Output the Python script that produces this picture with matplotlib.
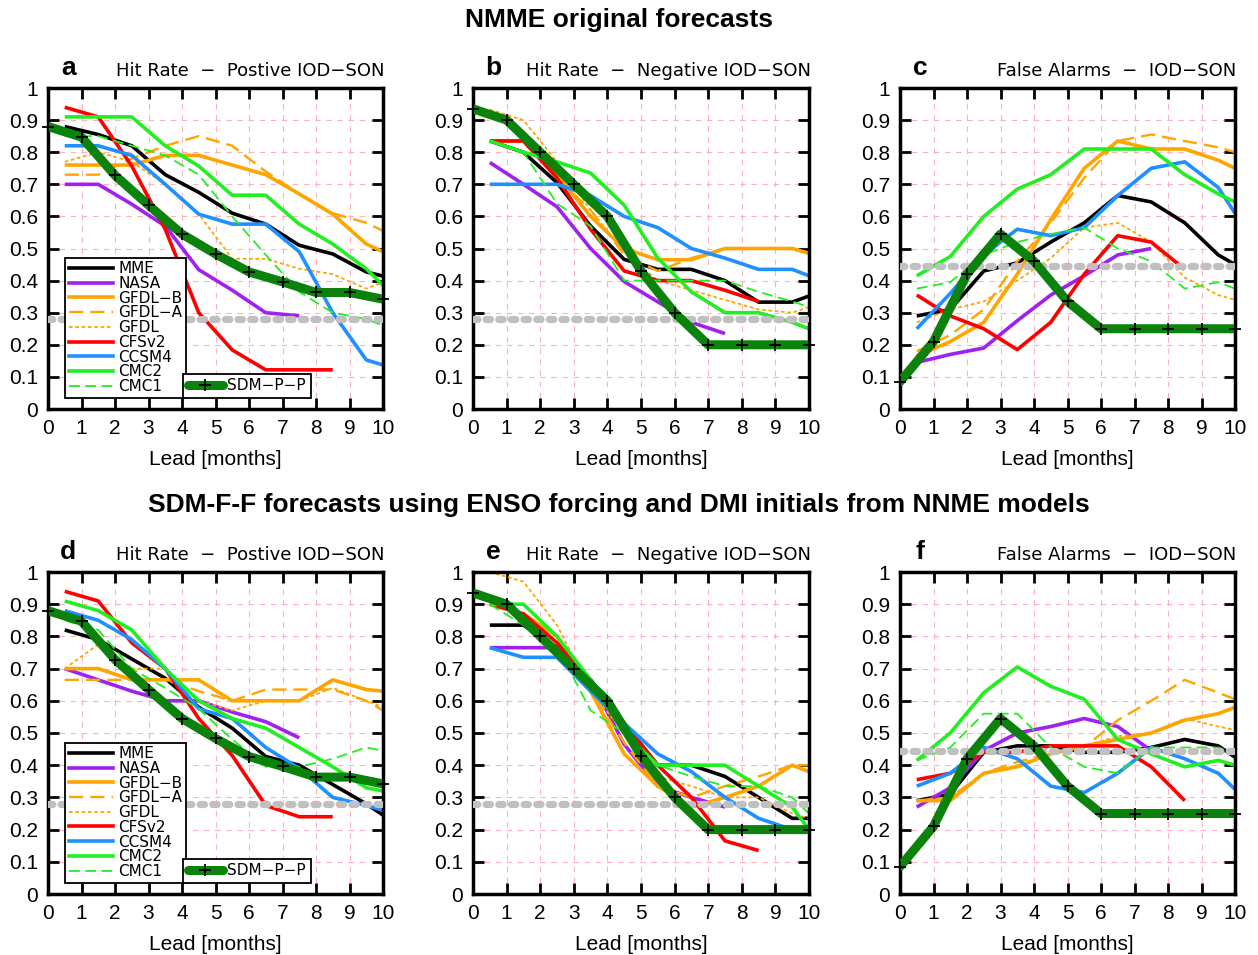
import matplotlib
matplotlib.use("Agg")
import matplotlib.pyplot as plt
from matplotlib.lines import Line2D

plt.rcParams['font.family'] = ['Liberation Sans', 'DejaVu Sans']

# lead times (months)
lead_nmme = [0.5, 1.5, 2.5, 3.5, 4.5, 5.5, 6.5, 7.5, 8.5, 9.5, 10.0]
lead_sdm = [0, 1, 2, 3, 4, 5, 6, 7, 8, 9, 10]

models = ['MME', 'NASA', 'GFDL-B', 'GFDL-A', 'GFDL', 'CFSv2', 'CCSM4', 'CMC2', 'CMC1']
legend_names = ['MME', 'NASA', 'GFDL−B', 'GFDL−A', 'GFDL', 'CFSv2', 'CCSM4', 'CMC2', 'CMC1']

# ---- panel a: hit rate, positive IOD (NMME original)
a_mme = [0.88, 0.855, 0.82, 0.73, 0.675, 0.61, 0.576, 0.51, 0.483, 0.427, 0.414]
a_nasa = [0.70, 0.70, 0.638, 0.57, 0.434, 0.37, 0.30, 0.29]
a_gfdlb = [0.76, 0.76, 0.76, 0.79, 0.79, 0.76, 0.73, 0.67, 0.607, 0.514, 0.49]
a_gfdla = [0.73, 0.73, 0.78, 0.82, 0.85, 0.82, 0.74, 0.67, 0.61, 0.58, 0.555]
a_gfdl = [0.77, 0.80, 0.77, 0.70, 0.607, 0.468, 0.468, 0.437, 0.42, 0.375, 0.395]
a_cfs = [0.94, 0.91, 0.757, 0.56, 0.30, 0.184, 0.122, 0.122, 0.122]
a_ccsm = [0.82, 0.82, 0.79, 0.70, 0.607, 0.576, 0.576, 0.49, 0.30, 0.153, 0.137]
a_cmc2 = [0.91, 0.91, 0.91, 0.82, 0.757, 0.666, 0.666, 0.576, 0.514, 0.437, 0.385]
a_cmc1 = [0.85, 0.85, 0.82, 0.79, 0.73, 0.60, 0.48, 0.365, 0.30, 0.28, 0.26]

# ---- panel b: hit rate, negative IOD (NMME original)
b_mme = [0.835, 0.80, 0.705, 0.57, 0.466, 0.435, 0.435, 0.40, 0.333, 0.333, 0.352]
b_nasa = [0.768, 0.70, 0.63, 0.50, 0.397, 0.334, 0.27, 0.235]
b_gfdlb = [0.835, 0.835, 0.73, 0.60, 0.50, 0.465, 0.465, 0.50, 0.50, 0.50, 0.485]
b_gfdla = [0.835, 0.835, 0.72, 0.62, 0.48, 0.43, 0.47, 0.50, 0.50, 0.50, 0.485]
b_gfdl = [0.933, 0.90, 0.77, 0.62, 0.49, 0.40, 0.37, 0.34, 0.31, 0.30, 0.318]
b_cfs = [0.835, 0.835, 0.72, 0.56, 0.43, 0.40, 0.40, 0.37, 0.335]
b_ccsm = [0.70, 0.70, 0.70, 0.665, 0.60, 0.565, 0.50, 0.47, 0.435, 0.435, 0.415]
b_cmc2 = [0.835, 0.80, 0.77, 0.735, 0.635, 0.47, 0.365, 0.30, 0.30, 0.27, 0.25]
b_cmc1 = [0.835, 0.80, 0.64, 0.57, 0.40, 0.40, 0.40, 0.40, 0.365, 0.335, 0.318]

# ---- panel c: false alarms (NMME original)
c_mme = [0.29, 0.31, 0.43, 0.455, 0.52, 0.58, 0.665, 0.645, 0.58, 0.48, 0.45]
c_nasa = [0.145, 0.17, 0.19, 0.275, 0.355, 0.415, 0.48, 0.50]
c_gfdlb = [0.165, 0.21, 0.27, 0.42, 0.59, 0.75, 0.835, 0.81, 0.81, 0.775, 0.75]
c_gfdla = [0.18, 0.23, 0.31, 0.46, 0.58, 0.72, 0.835, 0.855, 0.835, 0.815, 0.80]
c_gfdl = [0.27, 0.31, 0.335, 0.40, 0.47, 0.565, 0.58, 0.52, 0.41, 0.355, 0.34]
c_cfs = [0.355, 0.29, 0.25, 0.185, 0.27, 0.42, 0.54, 0.52, 0.435]
c_ccsm = [0.25, 0.36, 0.48, 0.56, 0.54, 0.565, 0.665, 0.75, 0.77, 0.69, 0.61]
c_cmc2 = [0.415, 0.475, 0.60, 0.685, 0.73, 0.81, 0.81, 0.81, 0.73, 0.67, 0.645]
c_cmc1 = [0.375, 0.395, 0.48, 0.52, 0.545, 0.565, 0.50, 0.46, 0.375, 0.395, 0.375]

# ---- panel d: hit rate, positive IOD (SDM-F-F)
d_mme = [0.82, 0.79, 0.73, 0.67, 0.58, 0.515, 0.427, 0.40, 0.34, 0.28, 0.245]
d_nasa = [0.70, 0.665, 0.63, 0.60, 0.60, 0.565, 0.535, 0.485]
d_gfdlb = [0.70, 0.70, 0.665, 0.665, 0.665, 0.60, 0.60, 0.60, 0.665, 0.635, 0.63]
d_gfdla = [0.665, 0.665, 0.665, 0.665, 0.63, 0.60, 0.635, 0.635, 0.635, 0.60, 0.57]
d_gfdl = [0.70, 0.775, 0.70, 0.70, 0.60, 0.57, 0.60, 0.60, 0.64, 0.60, 0.58]
d_cfs = [0.94, 0.91, 0.78, 0.70, 0.545, 0.43, 0.275, 0.24, 0.24]
d_ccsm = [0.88, 0.85, 0.79, 0.70, 0.575, 0.545, 0.455, 0.39, 0.30, 0.275, 0.26]
d_cmc2 = [0.91, 0.88, 0.82, 0.70, 0.60, 0.545, 0.515, 0.455, 0.395, 0.33, 0.32]
d_cmc1 = [0.85, 0.82, 0.70, 0.64, 0.575, 0.48, 0.395, 0.395, 0.42, 0.455, 0.445]

# ---- panel e: hit rate, negative IOD (SDM-F-F)
e_mme = [0.835, 0.835, 0.765, 0.665, 0.53, 0.40, 0.40, 0.365, 0.30, 0.235, 0.235]
e_nasa = [0.765, 0.765, 0.765, 0.665, 0.465, 0.335, 0.30, 0.27]
e_gfdlb = [0.90, 0.87, 0.80, 0.63, 0.435, 0.335, 0.27, 0.30, 0.335, 0.40, 0.38]
e_gfdla = [0.90, 0.87, 0.80, 0.63, 0.47, 0.335, 0.30, 0.335, 0.365, 0.40, 0.40]
e_gfdl = [1.0, 0.97, 0.835, 0.63, 0.50, 0.365, 0.335, 0.30, 0.30, 0.25, 0.235]
e_cfs = [0.90, 0.87, 0.78, 0.665, 0.53, 0.40, 0.30, 0.165, 0.135]
e_ccsm = [0.765, 0.735, 0.735, 0.63, 0.53, 0.435, 0.38, 0.30, 0.235, 0.20, 0.20]
e_cmc2 = [0.90, 0.90, 0.80, 0.665, 0.50, 0.40, 0.40, 0.40, 0.335, 0.27, 0.20]
e_cmc1 = [0.90, 0.835, 0.77, 0.57, 0.50, 0.40, 0.365, 0.335, 0.335, 0.30, 0.25]

# ---- panel f: false alarms (SDM-F-F)
f_mme = [0.29, 0.31, 0.44, 0.46, 0.46, 0.44, 0.44, 0.455, 0.48, 0.46, 0.425]
f_nasa = [0.27, 0.33, 0.445, 0.50, 0.52, 0.545, 0.52, 0.445]
f_gfdlb = [0.29, 0.29, 0.375, 0.395, 0.435, 0.46, 0.48, 0.50, 0.54, 0.56, 0.58]
f_gfdla = [0.29, 0.30, 0.375, 0.41, 0.435, 0.455, 0.54, 0.60, 0.665, 0.625, 0.605]
f_gfdl = [0.29, 0.30, 0.375, 0.40, 0.435, 0.46, 0.49, 0.50, 0.545, 0.52, 0.51]
f_cfs = [0.355, 0.375, 0.44, 0.44, 0.46, 0.46, 0.46, 0.395, 0.29]
f_ccsm = [0.335, 0.375, 0.455, 0.42, 0.335, 0.315, 0.375, 0.455, 0.42, 0.375, 0.325]
f_cmc2 = [0.415, 0.50, 0.625, 0.705, 0.645, 0.605, 0.48, 0.435, 0.395, 0.415, 0.40]
f_cmc1 = [0.415, 0.455, 0.56, 0.56, 0.455, 0.395, 0.375, 0.455, 0.455, 0.455, 0.435]

# statistical model SDM-P-P (same in both rows)
sdm_hit_pos = [0.88, 0.847, 0.728, 0.635, 0.545, 0.483, 0.427, 0.396, 0.363, 0.363, 0.342]
sdm_hit_neg = [0.935, 0.90, 0.80, 0.70, 0.60, 0.43, 0.30, 0.20, 0.20, 0.20, 0.20]
sdm_false = [0.085, 0.21, 0.42, 0.545, 0.46, 0.335, 0.25, 0.25, 0.25, 0.25, 0.25]

# climatological reference levels
clim_hit = 0.28
clim_false = 0.445

styles = {
    'MME':    dict(color='black', ls='-', lw=2.6),
    'NASA':   dict(color='#a020f0', ls='-', lw=2.6),
    'GFDL-B': dict(color='#ffa500', ls='-', lw=2.6),
    'GFDL-A': dict(color='#ffa500', ls=(0, (6, 3)), lw=1.7),
    'GFDL':   dict(color='#ffa500', ls=(0, (2, 1.5)), lw=1.3),
    'CFSv2':  dict(color='#ff0000', ls='-', lw=2.6),
    'CCSM4':  dict(color='#1e90ff', ls='-', lw=2.6),
    'CMC2':   dict(color='#22ee22', ls='-', lw=2.6),
    'CMC1':   dict(color='#22ee22', ls=(0, (6, 3)), lw=1.3),
}
sdm_color = '#0b820b'

panels = [
    ('a', 'Hit Rate  −  Postive IOD−SON', [a_mme, a_nasa, a_gfdlb, a_gfdla, a_gfdl, a_cfs, a_ccsm, a_cmc2, a_cmc1], sdm_hit_pos, clim_hit, True),
    ('b', 'Hit Rate  −  Negative IOD−SON', [b_mme, b_nasa, b_gfdlb, b_gfdla, b_gfdl, b_cfs, b_ccsm, b_cmc2, b_cmc1], sdm_hit_neg, clim_hit, False),
    ('c', 'False Alarms  −  IOD−SON', [c_mme, c_nasa, c_gfdlb, c_gfdla, c_gfdl, c_cfs, c_ccsm, c_cmc2, c_cmc1], sdm_false, clim_false, False),
    ('d', 'Hit Rate  −  Postive IOD−SON', [d_mme, d_nasa, d_gfdlb, d_gfdla, d_gfdl, d_cfs, d_ccsm, d_cmc2, d_cmc1], sdm_hit_pos, clim_hit, True),
    ('e', 'Hit Rate  −  Negative IOD−SON', [e_mme, e_nasa, e_gfdlb, e_gfdla, e_gfdl, e_cfs, e_ccsm, e_cmc2, e_cmc1], sdm_hit_neg, clim_hit, False),
    ('f', 'False Alarms  −  IOD−SON', [f_mme, f_nasa, f_gfdlb, f_gfdla, f_gfdl, f_cfs, f_ccsm, f_cmc2, f_cmc1], sdm_false, clim_false, False),
]

W, H = 1258, 955
fig = plt.figure(figsize=(W / 100, H / 100), dpi=100)

lefts = [48, 473, 900]
widths = [335, 336, 335]
tops = [88, 572]
heights = [321, 322]


def draw_panel(ax, letter, title, series, sdm, clim, with_legend):
    for m, vals in zip(models, series):
        ax.plot(lead_nmme[:len(vals)], vals, solid_capstyle='butt', **styles[m])
    # climatology level drawn as a chain of grey dots
    ax.plot([0, 10], [clim, clim], color='#c0c0c0', lw=5.2,
            ls=(0, (0.6, 1.15)), dash_capstyle='round', zorder=3)
    ax.plot(lead_sdm, sdm, color=sdm_color, lw=6.5, solid_capstyle='round',
            solid_joinstyle='round', zorder=4)
    ax.plot(lead_sdm, sdm, ls='none', marker='+', ms=8, mew=1.3,
            color='black', zorder=5, clip_on=False)

    ax.set_xlim(0, 10)
    ax.set_ylim(0, 1)
    ax.set_xticks(range(11))
    ax.set_yticks([i / 10 for i in range(11)])
    ax.set_yticklabels(['0'] + [f'0.{i}' for i in range(1, 10)] + ['1'])
    ax.grid(True, color='#ffb0c0', ls=(0, (5, 5)), lw=0.8)
    ax.set_axisbelow(True)
    ax.tick_params(direction='in', length=8, width=2, labelsize=15,
                   top=True, right=True, pad=7)
    for s in ax.spines.values():
        s.set_linewidth(2.5)
    ax.set_xlabel('Lead [months]', fontsize=15, labelpad=9)

    ax.text(0.06, 1.025, letter, transform=ax.transAxes, fontsize=19,
            fontweight='bold', ha='center', va='bottom')
    ax.text(1.005, 1.025, title, transform=ax.transAxes, fontsize=13,
            family='DejaVu Sans', ha='right', va='bottom')

    if with_legend:
        lp = {'family': 'DejaVu Sans', 'size': 11}
        handles = [Line2D([], [], **styles[m]) for m in models]
        leg = ax.legend(handles, legend_names, loc='lower left',
                        bbox_to_anchor=(0.05, 0.035), prop=lp,
                        labelspacing=-0.02, handlelength=2.9,
                        handletextpad=0.35, borderpad=0.25, borderaxespad=0,
                        fancybox=False, edgecolor='black', framealpha=1)
        leg.get_frame().set_linewidth(1.3)
        ax.add_artist(leg)
        sdm_h = Line2D([], [], color=sdm_color, lw=6.5, marker='+',
                       mec='black', ms=8, mew=1.3, markevery=[1],
                       solid_capstyle='round')
        leg2 = ax.legend([sdm_h], ['SDM−P−P'], loc='lower left',
                         bbox_to_anchor=(0.403, 0.035), prop=lp,
                         handlelength=2.3, handletextpad=0.3, borderpad=0.3,
                         borderaxespad=0, fancybox=False, edgecolor='black',
                         framealpha=1)
        leg2.get_frame().set_linewidth(1.3)


for k, (letter, title, series, sdm, clim, with_legend) in enumerate(panels):
    row, col = divmod(k, 3)
    rect = [lefts[col] / W, 1 - (tops[row] + heights[row]) / H,
            widths[col] / W, heights[row] / H]
    ax = fig.add_axes(rect)
    draw_panel(ax, letter, title, series, sdm, clim, with_legend)

fig.text(0.492, 1 - 20 / H, 'NMME original forecasts', fontsize=19,
         fontweight='bold', ha='center', va='center')
fig.text(0.492, 1 - 505 / H,
         'SDM-F-F forecasts using ENSO forcing and DMI initials from NNME models',
         fontsize=19, fontweight='bold', ha='center', va='center')

fig.savefig('out.png', dpi=100)
